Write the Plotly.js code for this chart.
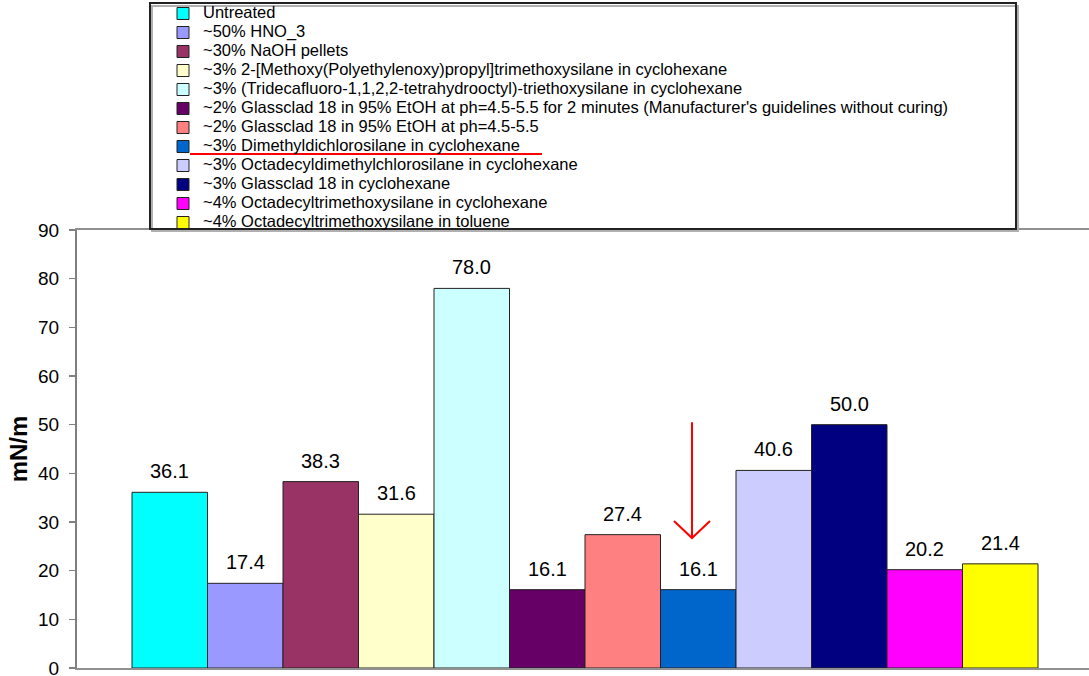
<!DOCTYPE html>
<html>
<head>
<meta charset="utf-8">
<script src="https://cdn.plot.ly/plotly-3.0.1.min.js"></script>
<style>html,body{margin:0;padding:0;background:#fff;}#chart{width:1089px;height:676px;}</style>
</head>
<body>
<div id="chart"></div>
<script>
const seriesNames = [
  "Untreated",
  "~50% HNO_3",
  "~30% NaOH pellets",
  "~3% 2-[Methoxy(Polyethylenoxy)propyl]trimethoxysilane in cyclohexane",
  "~3% (Tridecafluoro-1,1,2,2-tetrahydrooctyl)-triethoxysilane in cyclohexane",
  "~2% Glassclad 18 in 95% EtOH at ph=4.5-5.5 for 2 minutes (Manufacturer's guidelines without curing)",
  "~2% Glassclad 18 in 95% EtOH at ph=4.5-5.5",
  "~3% Dimethyldichlorosilane in cyclohexane",
  "~3% Octadecyldimethylchlorosilane in cyclohexane",
  "~3% Glassclad 18 in cyclohexane",
  "~4% Octadecyltrimethoxysilane in cyclohexane",
  "~4% Octadecyltrimethoxysilane in toluene"
];
const values = [36.1, 17.4, 38.3, 31.6, 78.0, 16.1, 27.4, 16.1, 40.6, 50.0, 20.2, 21.4];
const colors = ["#00FFFF","#9999FF","#993366","#FFFFCC","#CCFFFF","#660066","#FF8080","#0066CC","#CCCCFF","#000080","#FF00FF","#FFFF00"];
const yTicks = [0,10,20,30,40,50,60,70,80,90];

const FONT = "Arial, 'Liberation Sans', sans-serif";

const traces = seriesNames.map((n, i) => ({
  type: 'bar',
  name: '<span style="font-size:16.5px">' + n + '</span>',
  x: [n],
  y: [values[i]],
  marker: {color: colors[i], line: {color: '#222222', width: 1}},
  hoverinfo: 'y'
}));

const annotations = seriesNames.map((n, i) => ({
  x: n, y: values[i], xref: 'x', yref: 'y',
  text: values[i].toFixed(1),
  showarrow: false, yanchor: 'bottom', yshift: 8,
  font: {family: FONT, size: 20, color: '#000'}
}));

const L = 77, PW = 1089 - 77, T = 230, PH = 668 - 230;
const px = v => (v - L) / PW;
const py = v => (T + PH - v) / PH;

const shapes = [
  {type: 'rect', xref: 'paper', yref: 'paper', x0: px(152), x1: px(1018), y0: py(231), y1: py(6),
   line: {color: '#b0b0b0', width: 2}, fillcolor: 'rgba(0,0,0,0)'},
  {type: 'rect', xref: 'paper', yref: 'paper', x0: px(150), x1: px(1016), y0: py(229), y1: py(3),
   line: {color: '#222222', width: 2}, fillcolor: 'rgba(0,0,0,0)'},
  {type: 'line', xref: 'paper', yref: 'paper', x0: px(190), x1: px(542), y0: py(154), y1: py(154),
   line: {color: '#FF0000', width: 2}},
  {type: 'path', xref: 'paper', yref: 'y',
   path: 'M' + px(692) + ',50.5 L' + px(692) + ',26.7 M' + px(674) + ',30.2 L' + px(692) + ',26.7 L' + px(710) + ',30.2',
   line: {color: '#FF0000', width: 2}}
];

const layout = {
  width: 1089, height: 676,
  margin: {l: L, r: 0, t: T, b: 676 - 668, pad: 0, autoexpand: false},
  paper_bgcolor: '#fff', plot_bgcolor: '#fff',
  font: {family: FONT, color: '#000'},
  barmode: 'overlay', bargap: 0,
  showlegend: true,
  legend: {
    x: px(163), y: py(-1), xanchor: 'left', yanchor: 'top',
    bgcolor: 'rgba(0,0,0,0)', borderwidth: 0,
    font: {family: FONT, size: 12, color: '#000'},
    traceorder: 'normal'
  },
  xaxis: {
    type: 'category', categoryorder: 'array', categoryarray: seriesNames,
    range: [-1.2285, 12.1755],
    showticklabels: false, ticks: '', showgrid: false, zeroline: false,
    showline: true, linecolor: '#909090', linewidth: 2, mirror: true, fixedrange: true
  },
  yaxis: {
    range: [0, 90], tickvals: yTicks, ticktext: yTicks.map(String),
    ticks: 'outside', ticklen: 6, tickcolor: '#808080', tickwidth: 1.5,
    showgrid: false, zeroline: false,
    showline: true, linecolor: '#808080', linewidth: 2,
    tickfont: {family: FONT, size: 19, color: '#000'},
    ticklabelstandoff: 6, ticklabeloverflow: 'allow',
    title: {text: '<b>mN/m</b>', font: {family: FONT, size: 24, color: '#000'}, standoff: 4},
    fixedrange: true
  },
  annotations: annotations,
  shapes: shapes
};

Plotly.newPlot('chart', traces, layout, {displayModeBar: false, staticPlot: true});
</script>
</body>
</html>
